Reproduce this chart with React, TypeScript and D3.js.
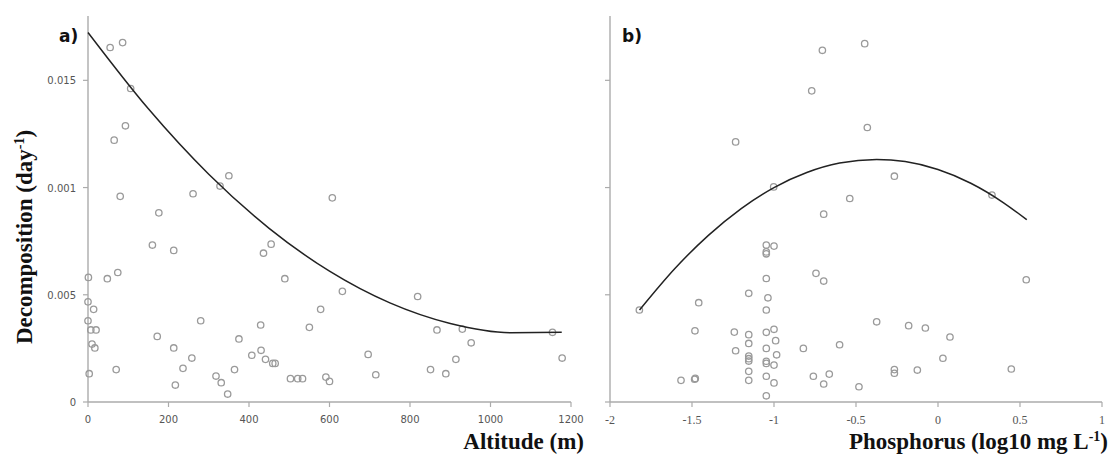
import React from "react";
import * as d3 from "d3";

// Panel a: altitude (m) vs decomposition
const altitude = [55, 86, 106, 93, 65, 80, 176, 261, 328, 350, 160, 213, 1, 48, 74, 0, 14, 0, 7, 20, 10, 17, 3, 70, 172, 213, 258, 236, 217, 280, 318, 331, 347, 364, 375, 407, 430, 429, 441, 459, 465, 436, 455, 489, 503, 521, 533, 550, 578, 632, 591, 600, 607, 696, 715, 819, 867, 851, 889, 914, 930, 952, 1154, 1178];
const decompA = [0.01653, 0.01676, 0.01462, 0.01288, 0.01221, 0.00959, 0.00882, 0.00971, 0.01007, 0.01055, 0.00732, 0.00707, 0.00581, 0.00575, 0.00604, 0.00467, 0.00432, 0.00379, 0.00336, 0.00336, 0.0027, 0.00252, 0.00132, 0.00151, 0.00306, 0.00252, 0.00205, 0.00157, 0.00079, 0.00379, 0.00121, 0.0009, 0.00037, 0.00151, 0.00294, 0.00218, 0.00241, 0.00359, 0.00199, 0.0018, 0.0018, 0.00694, 0.00736, 0.00575, 0.00109, 0.00109, 0.00109, 0.00348, 0.00432, 0.00516, 0.00116, 0.00096, 0.00952, 0.00222, 0.00127, 0.00492, 0.00336, 0.00151, 0.00132, 0.00199, 0.0034, 0.00276, 0.00325, 0.00205];
const fitAltX = [0, 150, 300, 450, 600, 750, 900, 1050, 1177];
const fitAltY = [0.01723, 0.01367, 0.01062, 0.0081, 0.0061, 0.00462, 0.00366, 0.00323, 0.00325];

// Panel b: phosphorus (log10 mg/L) vs decomposition
const phosphorus = [-0.705, -0.447, -0.77, -0.431, -1.234, -1.002, -0.538, -0.697, -0.266, 0.329, -1.821, -1.459, -1.482, -1.567, -1.484, -1.48, -1.242, -1.234, -1.154, -1.154, -1.154, -1.154, -1.154, -1.154, -1.154, -1.154, -1.047, -1.0, -1.047, -1.047, -1.047, -1.037, -1.047, -1.047, -1.0, -0.99, -1.047, -0.984, -1.047, -1.047, -1.0, -1.047, -1.0, -1.047, -0.821, -0.744, -0.697, -0.76, -0.697, -0.663, -0.6, -0.482, -0.374, -0.179, -0.077, 0.073, 0.03, -0.266, -0.266, -0.126, 0.447, 0.538];
const decompB = [0.0164, 0.01671, 0.01451, 0.0128, 0.01213, 0.01003, 0.00949, 0.00876, 0.01053, 0.00965, 0.00429, 0.00463, 0.00332, 0.00101, 0.00106, 0.0011, 0.00326, 0.00239, 0.00507, 0.00314, 0.00273, 0.00214, 0.00202, 0.00191, 0.00143, 0.00101, 0.00732, 0.00727, 0.007, 0.00691, 0.00576, 0.00486, 0.00429, 0.00325, 0.00339, 0.00286, 0.0025, 0.0022, 0.0019, 0.0018, 0.00172, 0.0012, 0.00089, 0.00029, 0.0025, 0.006, 0.00564, 0.0012, 0.00084, 0.0013, 0.00267, 0.00071, 0.00374, 0.00356, 0.00345, 0.00303, 0.00204, 0.00151, 0.00134, 0.00149, 0.00154, 0.0057];
const fitPX = [-1.82, -1.6, -1.4, -1.2, -1.0, -0.8, -0.6, -0.374, -0.2, 0, 0.2, 0.4, 0.541];
const fitPY = [0.00429, 0.00626, 0.00777, 0.00902, 0.01, 0.0107, 0.01114, 0.01131, 0.01121, 0.01084, 0.0102, 0.00929, 0.0085];

// Axis ticks
const yTickValues = [0, 0.005, 0.01, 0.015];
const yTickLabels = ["0", "0.005", "0.001", "0.015"];
const altTicks = [0, 200, 400, 600, 800, 1000, 1200];
const pTicks = [-2, -1.5, -1, -0.5, 0, 0.5, 1];
const pTickLabels = ["-2", "-1.5", "-1", "-0.5", "0", "0.5", "1"];

const AXIS = "#ababab";
const PT = "#9a9a9a";
const LINE = "#222";

export default function App() {
  const y = d3.scaleLinear().domain([0, 0.018]).range([402, 16]);
  const xa = d3.scaleLinear().domain([0, 1200]).range([88, 571]);
  const xb = d3.scaleLinear().domain([-2, 1]).range([610, 1102]);

  const lineA = d3
    .line<number>()
    .x((_, i) => xa(fitAltX[i]))
    .y((d) => y(d))
    .curve(d3.curveMonotoneX);
  const lineB = d3
    .line<number>()
    .x((_, i) => xb(fitPX[i]))
    .y((d) => y(d))
    .curve(d3.curveMonotoneX);

  const y0 = y(0);
  const serif = "'Liberation Serif', 'Times New Roman', serif";
  const sans = "'DejaVu Sans', Verdana, sans-serif";

  return (
    <svg
      width={1110}
      height={456}
      style={{ position: "absolute", left: 0, top: 0, background: "#fff" }}
    >
      {/* Panel a axes */}
      <line x1={xa(0)} x2={xa(0)} y1={y(0.018)} y2={y0} stroke={AXIS} strokeWidth={1.4} />
      <line x1={xa(0)} x2={xa(1200)} y1={y0} y2={y0} stroke={AXIS} strokeWidth={1.4} />
      {yTickValues.map((v, i) => (
        <g key={"ya" + i}>
          <line x1={xa(0) - 5} x2={xa(0)} y1={y(v)} y2={y(v)} stroke={AXIS} strokeWidth={1.2} />
          <text x={76} y={y(v) + 4} textAnchor="end" fontFamily={sans} fontSize={10} fill="#555">
            {yTickLabels[i]}
          </text>
        </g>
      ))}
      {altTicks.map((t) => (
        <g key={"xa" + t}>
          <line x1={xa(t)} x2={xa(t)} y1={y0} y2={y0 + 5} stroke={AXIS} strokeWidth={1.2} />
          <text x={xa(t)} y={423} textAnchor="middle" fontFamily={sans} fontSize={10} fill="#555">
            {t}
          </text>
        </g>
      ))}
      {altitude.map((a, i) => (
        <circle key={"pa" + i} cx={xa(a)} cy={y(decompA[i])} r={3.2} fill="none" stroke={PT} strokeWidth={1.3} />
      ))}
      <path d={lineA(fitAltY) || ""} fill="none" stroke={LINE} strokeWidth={1.5} />
      <text x={59} y={42} fontFamily={sans} fontWeight="bold" fontSize={17} fill="#111">a)</text>

      {/* Panel b axes */}
      <line x1={xb(-2)} x2={xb(-2)} y1={y(0.018)} y2={y0} stroke={AXIS} strokeWidth={1.4} />
      <line x1={xb(-2)} x2={xb(1)} y1={y0} y2={y0} stroke={AXIS} strokeWidth={1.4} />
      {yTickValues.map((v, i) => (
        <line key={"yb" + i} x1={xb(-2) - 5} x2={xb(-2)} y1={y(v)} y2={y(v)} stroke={AXIS} strokeWidth={1.2} />
      ))}
      {pTicks.map((t, i) => (
        <g key={"xb" + i}>
          <line x1={xb(t)} x2={xb(t)} y1={y0} y2={y0 + 5} stroke={AXIS} strokeWidth={1.2} />
          <text x={xb(t)} y={424} textAnchor="middle" fontFamily={serif} fontSize={12} fill="#555">
            {pTickLabels[i]}
          </text>
        </g>
      ))}
      {phosphorus.map((p, i) => (
        <circle key={"pb" + i} cx={xb(p)} cy={y(decompB[i])} r={3.2} fill="none" stroke={PT} strokeWidth={1.3} />
      ))}
      <path d={lineB(fitPY) || ""} fill="none" stroke={LINE} strokeWidth={1.5} />
      <text x={622} y={42} fontFamily={sans} fontWeight="bold" fontSize={17} fill="#111">b)</text>

      {/* Axis titles */}
      <text x={584} y={449} textAnchor="end" fontFamily={serif} fontWeight="bold" fontSize={23} fill="#111">
        Altitude (m)
      </text>
      <text x={1108} y={449} textAnchor="end" fontFamily={serif} fontWeight="bold" fontSize={23} fill="#111">
        Phosphorus (log10 mg L<tspan fontSize={14} dy={-8}>-1</tspan><tspan dy={8}>)</tspan>
      </text>
      <text
        transform={`translate(32, 237) rotate(-90)`}
        textAnchor="middle"
        fontFamily={serif}
        fontWeight="bold"
        fontSize={23}
        fill="#111"
      >
        Decomposition (day<tspan fontSize={14} dy={-8}>-1</tspan><tspan dy={8}>)</tspan>
      </text>
    </svg>
  );
}
